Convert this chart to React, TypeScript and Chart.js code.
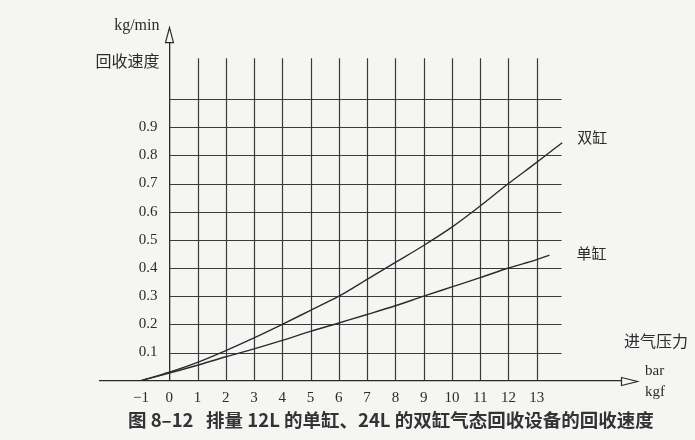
import React, { useEffect, useRef } from 'react';
import Chart from 'chart.js/auto';

// ---- data ----
const doublePressure = [-1, 0, 1, 2, 3, 4, 5, 6, 7, 8, 9, 10, 11, 12, 13, 13.9];
const doubleRate = [0, 0.03, 0.065, 0.107, 0.152, 0.2, 0.25, 0.3, 0.36, 0.42, 0.48, 0.545, 0.62, 0.7, 0.775, 0.845];
const singlePressure = [-1, 0, 1, 2, 3, 4, 5, 6, 7, 8, 9, 10, 11, 12, 13, 13.45];
const singleRate = [0, 0.027, 0.055, 0.085, 0.113, 0.143, 0.175, 0.205, 0.235, 0.266, 0.3, 0.333, 0.366, 0.4, 0.43, 0.446];
const seriesNames = ['双缸', '单缸'];

const xTickValues = [-1, 0, 1, 2, 3, 4, 5, 6, 7, 8, 9, 10, 11, 12, 13];
const yTickValues = [0.1, 0.2, 0.3, 0.4, 0.5, 0.6, 0.7, 0.8, 0.9];
const gridRows = [0.1, 0.2, 0.3, 0.4, 0.5, 0.6, 0.7, 0.8, 0.9, 1.0];
const gridCols = [1, 2, 3, 4, 5, 6, 7, 8, 9, 10, 11, 12, 13];

const yUnit = 'kg/min';
const yTitle = '回收速度';
const xTitle = '进气压力';
const xUnitTop = 'bar';
const xUnitBottom = 'kgf';
const caption = '图 8–12   排量 12L 的单缸、24L 的双缸气态回收设备的回收速度';

const INK = '#2b2b2b';
const SERIF = '"Liberation Serif", "DejaVu Serif", serif';
const CJK = '"Noto Sans CJK SC", "Noto Sans", sans-serif';

const decor = {
  id: 'decor',
  beforeDraw(chart: any) {
    const { ctx } = chart;
    ctx.save();
    ctx.fillStyle = '#f5f5f3';
    ctx.fillRect(0, 0, chart.width, chart.height);
    ctx.restore();
  },
  beforeDatasetsDraw(chart: any) {
    const { ctx } = chart;
    const xs = chart.scales.x;
    const ys = chart.scales.y;
    ctx.save();
    ctx.strokeStyle = '#3a3a3a';
    ctx.lineWidth = 1.2;
    const x0 = xs.getPixelForValue(0);
    const xEnd = xs.getPixelForValue(13.88);
    gridRows.forEach((v) => {
      const y = Math.round(ys.getPixelForValue(v)) + 0.5;
      ctx.beginPath();
      ctx.moveTo(x0, y);
      ctx.lineTo(xEnd, y);
      ctx.stroke();
    });
    const y0 = ys.getPixelForValue(0);
    const yTop = ys.getPixelForValue(1.145);
    gridCols.forEach((v) => {
      const x = Math.round(xs.getPixelForValue(v)) + 0.5;
      ctx.beginPath();
      ctx.moveTo(x, y0);
      ctx.lineTo(x, yTop);
      ctx.stroke();
    });
    ctx.restore();
  },
  afterDraw(chart: any) {
    const { ctx, chartArea } = chart;
    const xs = chart.scales.x;
    const ys = chart.scales.y;
    ctx.save();
    ctx.strokeStyle = INK;
    ctx.fillStyle = '#f5f5f3';
    ctx.lineWidth = 1.2;
    // x arrow (hollow)
    const ay = Math.round(ys.getPixelForValue(0)) + 0.5;
    const ax = chartArea.right;
    ctx.beginPath();
    ctx.moveTo(ax, ay - 4);
    ctx.lineTo(ax + 16, ay);
    ctx.lineTo(ax, ay + 4);
    ctx.closePath();
    ctx.fill();
    ctx.stroke();
    // y arrow (hollow)
    const bx = Math.round(xs.getPixelForValue(0)) + 0.5;
    const by = chartArea.top;
    ctx.beginPath();
    ctx.moveTo(bx - 4, by);
    ctx.lineTo(bx, by - 15);
    ctx.lineTo(bx + 4, by);
    ctx.closePath();
    ctx.fill();
    ctx.stroke();

    ctx.fillStyle = INK;
    // y tick labels, placed by the y scale
    ctx.textAlign = 'right';
    ctx.textBaseline = 'middle';
    ctx.font = `15px ${SERIF}`;
    yTickValues.forEach((v) => {
      ctx.fillText(v.toFixed(1), bx - 12, ys.getPixelForValue(v));
    });

    // y axis texts
    ctx.font = `16px ${SERIF}`;
    ctx.fillText(yUnit, bx - 10, 26);
    ctx.font = `16px ${CJK}`;
    ctx.fillText(yTitle, bx - 10, 61);

    // x axis texts
    ctx.textAlign = 'left';
    ctx.font = `16px ${CJK}`;
    ctx.fillText(xTitle, 624, 341);
    ctx.font = `15px ${SERIF}`;
    ctx.fillText(xUnitTop, 645, 371);
    ctx.fillText(xUnitBottom, 645, 392);

    // series labels near line ends
    ctx.font = `15px ${CJK}`;
    const dEndX = xs.getPixelForValue(doublePressure[doublePressure.length - 1]);
    const dEndY = ys.getPixelForValue(doubleRate[doubleRate.length - 1]);
    ctx.fillText(seriesNames[0], dEndX + 15, dEndY - 5);
    const sEndX = xs.getPixelForValue(singlePressure[singlePressure.length - 1]);
    const sEndY = ys.getPixelForValue(singleRate[singleRate.length - 1]);
    ctx.fillText(seriesNames[1], sEndX + 27, sEndY - 2);

    // caption
    ctx.font = `bold 18.5px ${CJK}`;
    ctx.fillStyle = '#333';
    ctx.fillText(caption, 128, 420);
    ctx.restore();
  },
};

export default function App() {
  const ref = useRef<HTMLCanvasElement | null>(null);
  useEffect(() => {
    if (!ref.current) return;
    const chart = new Chart(ref.current, {
      type: 'line',
      data: {
        datasets: [
          {
            label: seriesNames[0],
            data: doublePressure.map((p, i) => ({ x: p, y: doubleRate[i] })),
            borderColor: INK,
            borderWidth: 1.4,
            pointRadius: 0,
            fill: false,
            cubicInterpolationMode: 'monotone',
          },
          {
            label: seriesNames[1],
            data: singlePressure.map((p, i) => ({ x: p, y: singleRate[i] })),
            borderColor: INK,
            borderWidth: 1.4,
            pointRadius: 0,
            fill: false,
            cubicInterpolationMode: 'monotone',
          },
        ],
      },
      options: {
        responsive: false,
        animation: false,
        events: [],
        layout: { padding: { left: 100, right: 73.5, top: 42.7, bottom: 59.3 } },
        plugins: { legend: { display: false }, tooltip: { enabled: false }, title: { display: false } },
        scales: {
          x: {
            type: 'linear',
            min: -2.45,
            max: 16,
            position: { y: 0 } as any,
            grid: { display: false, drawTicks: false },
            border: { display: true, color: INK, width: 1.3 },
            ticks: {
              autoSkip: false,
              maxRotation: 0,
              padding: 8,
              color: INK,
              font: { family: SERIF, size: 15 },
              callback: (v: any) => (Number(v) < 0 ? '−' + Math.abs(Number(v)) : String(v)),
            },
            afterBuildTicks: (s: any) => {
              s.ticks = xTickValues.map((v) => ({ value: v }));
            },
            afterFit: (s: any) => {
              s.height = 0;
            },
          },
          y: {
            type: 'linear',
            min: 0,
            max: 1.2,
            position: { x: 0 } as any,
            grid: { display: false, drawTicks: false },
            border: { display: true, color: INK, width: 1.3 },
            ticks: { display: false },
            afterBuildTicks: (s: any) => {
              s.ticks = yTickValues.map((v) => ({ value: v }));
            },
            afterFit: (s: any) => {
              s.width = 0;
            },
          },
        },
      } as any,
      plugins: [decor],
    });
    return () => chart.destroy();
  }, []);
  return (
    <div style={{ position: 'absolute', left: 0, top: 0, width: 695, height: 440 }}>
      <canvas ref={ref} width={695} height={440} style={{ display: 'block' }} />
    </div>
  );
}
